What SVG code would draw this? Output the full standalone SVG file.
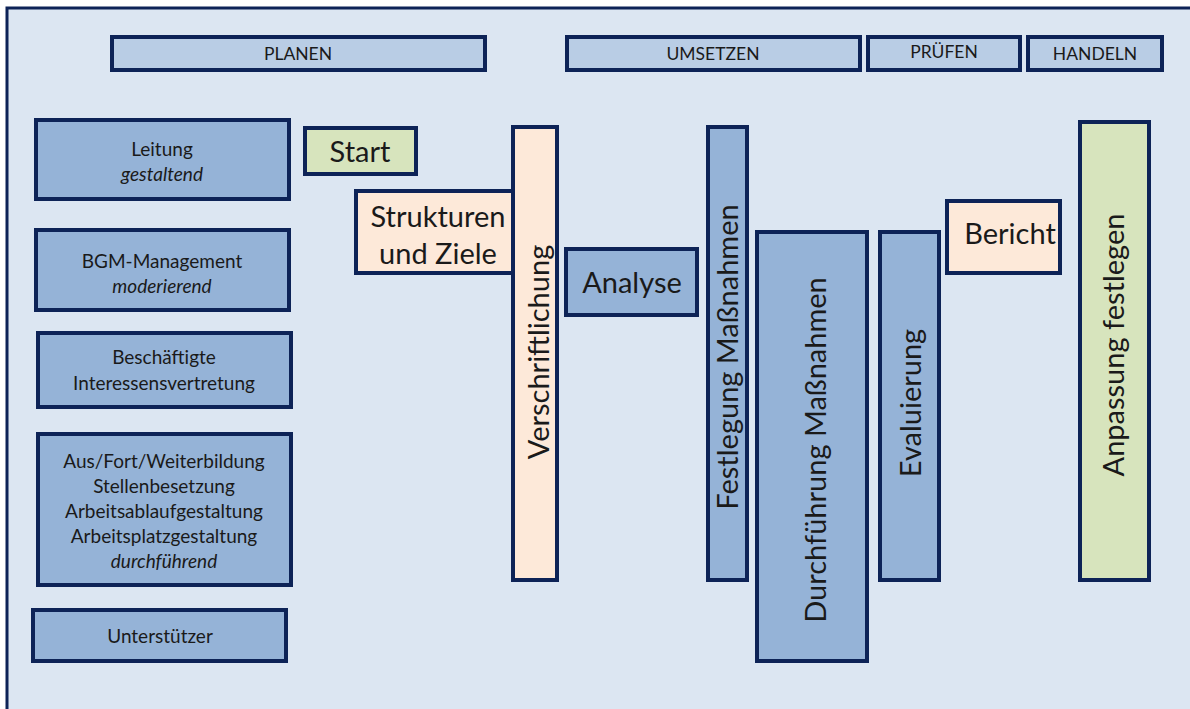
<svg xmlns="http://www.w3.org/2000/svg" width="1190" height="709" viewBox="0 0 1190 709">
<style>
text{font-family:Lato,"Open Sans","Liberation Sans",sans-serif;fill:#1a1a1a;text-anchor:middle}
.b{stroke:#0d2357;stroke-width:4}
.hd{fill:#b9cde5}
.bl{fill:#95b3d7}
.pe{fill:#fde9d9}
.gr{fill:#d7e4bd}
.h{font-size:17.5px}
.s{font-size:19px}
.l{font-size:29px}
.i{font-style:italic}
</style>
<rect x="0" y="0" width="1190" height="709" fill="#ffffff"/>
<rect x="7" y="8" width="1190" height="720" fill="#dce6f2" stroke="#0d2357" stroke-width="3"/>
<g id="planen"><rect class="b hd" x="112" y="37" width="373" height="33"/><text class="h" x="298" y="60">PLANEN</text></g>
<g id="umsetzen"><rect class="b hd" x="567" y="37" width="293" height="33"/><text class="h" x="713" y="60">UMSETZEN</text></g>
<g id="pruefen"><rect class="b hd" x="868" y="37" width="152" height="33"/><text class="h" x="944" y="58">PRÜFEN</text></g>
<g id="handeln"><rect class="b hd" x="1028" y="37" width="134" height="33"/><text class="h" x="1095" y="60">HANDELN</text></g>
<g id="leitung"><rect class="b bl" x="36" y="120" width="253" height="79"/><text class="s" x="162" y="156">Leitung</text><text class="s i" x="162" y="181">gestaltend</text></g>
<g id="bgm"><rect class="b bl" x="36" y="230" width="253" height="80"/><text class="s" x="162" y="268">BGM-Management</text><text class="s i" x="162" y="293">moderierend</text></g>
<g id="beschaeftigte"><rect class="b bl" x="38" y="333" width="253" height="74"/><text class="s" x="164" y="364">Beschäftigte</text><text class="s" x="164" y="390">Interessensvertretung</text></g>
<g id="ausfort"><rect class="b bl" x="38" y="434" width="253" height="151"/><text class="s" x="164" y="468">Aus/Fort/Weiterbildung</text><text class="s" x="164" y="493">Stellenbesetzung</text><text class="s" x="164" y="518">Arbeitsablaufgestaltung</text><text class="s" x="164" y="543">Arbeitsplatzgestaltung</text><text class="s i" x="164" y="568">durchführend</text></g>
<g id="unterstuetzer"><rect class="b bl" x="33" y="610" width="253" height="51"/><text class="s" x="160" y="643">Unterstützer</text></g>
<g id="start"><rect class="b gr" x="305" y="128" width="111" height="46"/><text class="l" x="360" y="162">Start</text></g>
<g id="strukturen"><rect class="b pe" x="356" y="191" width="157" height="82"/><text class="l" x="438" y="227">Strukturen</text><text class="l" x="438" y="264">und Ziele</text></g>
<g id="verschriftlichung"><rect class="b pe" x="513" y="127" width="44" height="453"/><text class="l" transform="translate(549 352) rotate(-90)">Verschriftlichung</text></g>
<g id="analyse"><rect class="b bl" x="566" y="249" width="131" height="66"/><text class="l" x="632" y="293">Analyse</text></g>
<g id="festlegung"><rect class="b bl" x="708" y="127" width="39" height="453"/><text class="l" transform="translate(738 357) rotate(-90)">Festlegung Maßnahmen</text></g>
<g id="durchfuehrung"><rect class="b bl" x="757" y="232" width="110" height="429"/><text class="l" transform="translate(826 450) rotate(-90)">Durchführung Maßnahmen</text></g>
<g id="evaluierung"><rect class="b bl" x="880" y="232" width="59" height="348"/><text class="l" transform="translate(921 403) rotate(-90)">Evaluierung</text></g>
<g id="bericht"><rect class="b pe" x="947" y="201" width="113" height="72"/><text class="l" x="1010" y="244">Bericht</text></g>
<g id="anpassung"><rect class="b gr" x="1080" y="122" width="69" height="458"/><text class="l" transform="translate(1124 345) rotate(-90)">Anpassung festlegen</text></g>
<g id="connectors"></g>
</svg>
